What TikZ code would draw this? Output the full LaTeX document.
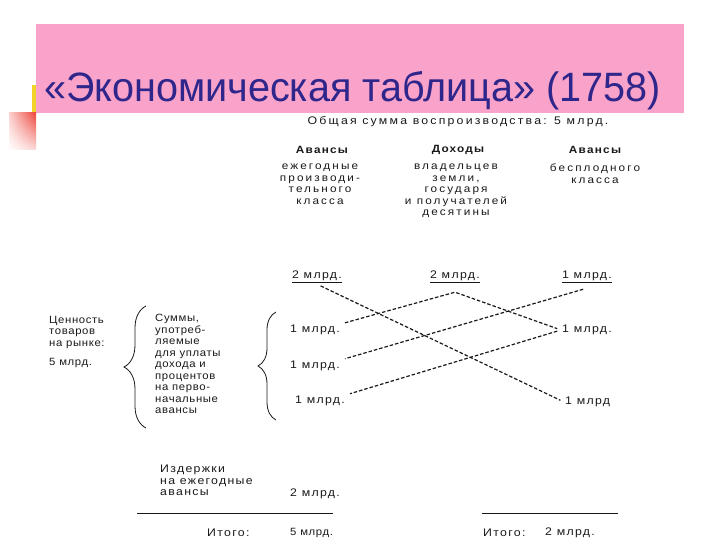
\documentclass[tikz,border=0pt]{standalone}
\usepackage{fontspec}
\setmainfont{Liberation Sans}
\newfontfamily\titlefont{Liberation Sans}
\newfontfamily\tablefont[FakeStretch=1.08, LetterSpace=6]{Liberation Sans}
\newfontfamily\widefont[FakeStretch=1.12, LetterSpace=12]{Liberation Sans}
\newfontfamily\widerfont[FakeStretch=1.12, LetterSpace=20]{Liberation Sans}
\usetikzlibrary{positioning, decorations.pathreplacing, shadings}
\definecolor{pinkband}{RGB}{249,162,202}
\definecolor{titleblue}{RGB}{46,38,138}
\definecolor{yellowbar}{RGB}{240,210,40}
\definecolor{redcorner}{RGB}{238,70,60}
\definecolor{inkgray}{RGB}{25,25,25}

\begin{document}
\begin{tikzpicture}[x=1pt, y=-1pt, every node/.style={font=\tablefont\fontsize{10.5}{11.5}\selectfont, text=inkgray, inner sep=1pt},
  wide/.style={font=\widefont\fontsize{11}{11.5}\selectfont},
  hdr/.style={font=\widefont\bfseries\fontsize{10.5}{11.5}\selectfont},
  col/.style={anchor=north, align=center, font=\widerfont\fontsize{10.5}{11.5}\selectfont},
  blk/.style={anchor=north west, align=left},
  val/.style={wide, anchor=west},
  flow/.style={draw=inkgray, line width=1.2pt, dash pattern=on 3.5pt off 2pt, shorten <=4pt, shorten >=4pt},
  curly/.style={draw=inkgray, line width=0.8pt, decorate, decoration={brace, amplitude=#1}},
  sumline/.style={draw=inkgray, line width=1pt}]
 \useasboundingbox (0,0) rectangle (720,540);
 % slide title band
 \fill[pinkband] (36,24) rectangle (684,113);
 \fill[yellowbar] (32,85) rectangle (36,113);
 \shade[upper right=redcorner, upper left=redcorner!25, lower right=redcorner!20, lower left=white] (9,113) rectangle (36,150);
 \node[anchor=base west, inner sep=0pt, font=\titlefont\fontsize{41}{41}\selectfont, text=titleblue] (title) at (44,102) {\scalebox{0.965}[1]{«Экономическая таблица» (1758)}};

 % heads of the three columns
 \node[font=\widerfont\fontsize{11}{11.5}\selectfont] (total) at (458,122) {Общая сумма воспроизводства: 5 млрд.};
 \node[hdr] (hprod) at (322,150) {Авансы};
 \node[hdr] (hinc)  at (458,150) {Доходы};
 \node[hdr] (hster) at (595,150) {Авансы};
 \node[col] (sprod) at (320,163) {ежегодные\\производи-\\тельного\\класса};
 \node[col] (sinc)  at (456,163) {владельцев\\земли,\\государя\\и получателей\\десятины};
 \node[col] (sster) at (595,163) {бесплодного\\класса};

 % advances and incomes
 \node[wide] (ltop) at (317,277) {\underline{2 млрд.}};
 \node[wide] (mtop) at (455,277) {\underline{2 млрд.}};
 \node[wide] (rtop) at (587,277) {\underline{1 млрд.}};
 \node[val] (lone)   at (289,330) {1 млрд.};
 \node[val] (ltwo)   at (289,366) {1 млрд.};
 \node[val] (lthree) at (294,401) {1 млрд.};
 \node[val] (rone)   at (561,330) {1 млрд.};
 \node[val] (rtwo)   at (564,402) {1 млрд};

 \draw[flow] (ltop.south) -- (rtwo.west);
 \draw[flow] (lone.north east) -- ([yshift=-8pt]mtop.south) -- (rone.west);
 \draw[flow] ([yshift=-4pt]rtop.south) -- (ltwo.north east);
 \draw[flow] (rone.west) -- (lthree.north east);

 % left side
 \node[blk] (value) at (48,315) {Ценность\\товаров\\на рынке:};
 \node[anchor=west] (vsum) at (48,363) {5 млрд.};
 \node[blk] (sums) at (154,313) {Суммы,\\употреб-\\ляемые\\для уплаты\\дохода и\\процентов\\на перво-\\начальные\\авансы};
 \draw[curly=22pt] (146,428) -- (146,306);
 \draw[curly=18pt] (276,420) -- (276,312);

 % costs and totals
 \node[blk, wide] (costs) at (159,464) {Издержки\\на ежегодные\\авансы};
 \node[val] (csum) at (289,494) {2 млрд.};
 \draw[sumline] (137,513) -- (333,513);
 \draw[sumline] (482,513) -- (618,513);
 \node[val] (ltot) at (206,533) {Итого:};
 \node[anchor=west] (lsum) at (289,533) {5 млрд.};
 \node[val] (rtot) at (482,533) {Итого:};
 \node[val] (rsum) at (544,533) {2 млрд.};
\end{tikzpicture}
\end{document}
